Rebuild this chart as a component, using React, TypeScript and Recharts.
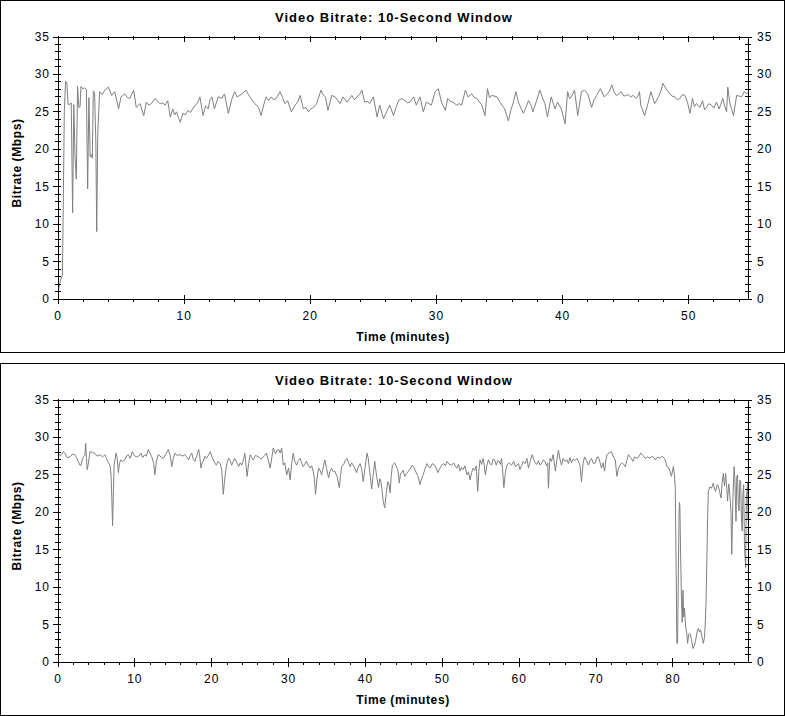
import React from "react";
import { LineChart, Line, XAxis, YAxis } from "recharts";

const TITLE = "Video Bitrate: 10-Second Window";
const X_LABEL = "Time (minutes)";
const Y_LABEL = "Bitrate (Mbps)";

const Y_TICKS = [
  0, 1, 2, 3, 4, 5, 6, 7, 8, 9, 10, 11, 12, 13, 14, 15, 16, 17, 18, 19, 20, 21, 22, 23, 24, 25, 26, 27, 28, 29,
  30, 31, 32, 33, 34, 35,
];
const TOP_X_TICKS = [0, 2, 4, 6, 8, 10, 12, 14, 16, 18, 20, 22, 24, 26, 28, 30, 32, 34, 36, 38, 40, 42, 44, 46, 48, 50, 52, 54];
const BOTTOM_X_TICKS = [
  0, 2, 4, 6, 8, 10, 12, 14, 16, 18, 20, 22, 24, 26, 28, 30, 32, 34, 36, 38, 40, 42, 44, 46, 48, 50, 52, 54, 56, 58,
  60, 62, 64, 66, 68, 70, 72, 74, 76, 78, 80, 82, 84, 86, 88,
];
const TOP_X_MAX = 54.7;
const BOTTOM_X_MAX = 89.76;

// [minute, Mbps]
const TOP_SAMPLES: [number, number][] = [
  [0, 1.0], [0.2, 2.5], [0.35, 3.2], [0.42, 13], [0.5, 25], [0.6, 29.1], [0.7, 28.9], [0.8, 26], [0.95, 26],
  [1.05, 26.2], [1.1, 19.5], [1.16, 11.5], [1.25, 26], [1.35, 19], [1.45, 16], [1.55, 28.4], [1.65, 25.6],
  [1.75, 25.7], [1.82, 28.4], [1.95, 28.1], [2.1, 28.2], [2.25, 28], [2.35, 14.7], [2.45, 26.9], [2.55, 19],
  [2.65, 19.3], [2.72, 18.8], [2.8, 27.8], [2.9, 27.5], [3.0, 21], [3.07, 9], [3.15, 22], [3.3, 27.7], [3.5, 27.3],
  [3.7, 27.9], [4.0, 28.3], [4.25, 27.2], [4.5, 27.7], [4.8, 25.4], [5.0, 27], [5.3, 27.4], [5.5, 26.9], [5.7, 26.8],
  [6.0, 27.9], [6.2, 25.6], [6.5, 26.1], [6.8, 24.5], [7.0, 26.3], [7.2, 25.9], [7.4, 26.1], [7.7, 26.8], [7.9, 26.4],
  [8.1, 26.1], [8.3, 26.2], [8.5, 25.9], [8.7, 26.5], [8.9, 24.3], [9.1, 25.4], [9.25, 24.6], [9.4, 25], [9.55, 24.2],
  [9.7, 23.6], [9.9, 24.8], [10.1, 24.6], [10.3, 25.2], [10.5, 24.9], [10.7, 25.5], [10.9, 25.9], [11.1, 26.3],
  [11.25, 27], [11.5, 24.5], [11.7, 25.8], [11.9, 25.4], [12.05, 26.6], [12.2, 27], [12.4, 25.4], [12.7, 27],
  [13.0, 26.8], [13.2, 27.4], [13.5, 24.8], [13.8, 26.8], [14.0, 27.7], [14.2, 27], [14.4, 27.2], [14.65, 27.5],
  [14.9, 27.9], [15.1, 27.3], [15.3, 26.8], [15.6, 26.1], [15.9, 25.6], [16.1, 24.5], [16.3, 25.9], [16.5, 27],
  [16.7, 26.5], [16.9, 27], [17.1, 26.6], [17.3, 26.8], [17.6, 27.7], [17.8, 26.9], [18.0, 26.1], [18.2, 26.5],
  [18.5, 25], [18.8, 25.9], [19.0, 26.3], [19.2, 27.2], [19.45, 25.4], [19.65, 25.6], [19.85, 25], [20.05, 25.4],
  [20.25, 25.6], [20.5, 26.1], [20.85, 27.9], [21.0, 27.3], [21.2, 27], [21.4, 25.2], [21.7, 27.2], [21.96, 27],
  [22.15, 26.6], [22.35, 26.1], [22.6, 27], [22.9, 26.3], [23.1, 26.7], [23.3, 27.2], [23.5, 26.6], [23.7, 27],
  [23.9, 27.3], [24.1, 27.9], [24.3, 26.3], [24.5, 26.4], [24.7, 26.1], [25.0, 27], [25.3, 24.3], [25.5, 25.9],
  [25.8, 24.1], [26.05, 25], [26.3, 25.9], [26.6, 24.5], [26.8, 25.6], [27.0, 26.5], [27.25, 26.8], [27.5, 26.5],
  [27.7, 26.2], [27.9, 26.3], [28.2, 27], [28.4, 25.9], [28.7, 27], [28.96, 25], [29.2, 26.3], [29.4, 26.1],
  [29.6, 25.9], [29.9, 27.7], [30.15, 28.1], [30.4, 26.3], [30.7, 25.2], [30.9, 26.8], [31.1, 26.4], [31.3, 26.3],
  [31.6, 25.9], [31.8, 26.1], [32.0, 25.9], [32.3, 27.9], [32.5, 27], [32.8, 27.4], [33.0, 26.9], [33.2, 26.8],
  [33.6, 25.9], [33.85, 24.5], [34.05, 28.1], [34.2, 26.9], [34.4, 27.2], [34.8, 27], [35.0, 26.4], [35.2, 25.9],
  [35.4, 25.4], [35.7, 23.8], [35.9, 25.2], [36.1, 26.3], [36.3, 27.7], [36.5, 26.3], [36.7, 25.5], [36.9, 24.8],
  [37.1, 25.6], [37.3, 26.5], [37.5, 25.9], [37.65, 25], [37.9, 26.3], [38.2, 27.9], [38.4, 26.9], [38.6, 26.1],
  [38.8, 24.3], [39.1, 27], [39.4, 25.4], [39.6, 26.3], [39.9, 25.4], [40.05, 24.4], [40.2, 23.4], [40.4, 27.7],
  [40.55, 26.8], [40.7, 27], [40.95, 27.9], [41.2, 24.5], [41.5, 27.7], [41.75, 27.9], [42.0, 27.4], [42.3, 25.6],
  [42.5, 26.6], [42.7, 27.2], [43.0, 28.1], [43.3, 27], [43.5, 27.3], [43.7, 27.7], [43.9, 28.6], [44.1, 27.6],
  [44.25, 27.2], [44.45, 27.4], [44.65, 27.7], [44.85, 27.1], [45.05, 27.2], [45.2, 27.3], [45.4, 27], [45.6, 27.2],
  [45.8, 26.8], [46.0, 27.2], [46.1, 27.7], [46.2, 25.9], [46.5, 24.5], [46.8, 26.3], [47.0, 27.7], [47.3, 26.1],
  [47.6, 27], [47.8, 27.8], [47.95, 28.8], [48.2, 28.1], [48.5, 27.4], [48.7, 27.1], [48.9, 27], [49.1, 26.6],
  [49.3, 26.8], [49.5, 27.3], [49.7, 27.2], [49.9, 26.3], [50.1, 24.8], [50.3, 26.8], [50.45, 25.7], [50.6, 26.1],
  [50.9, 25.6], [51.1, 26.5], [51.25, 25.3], [51.4, 25.6], [51.6, 26.1], [51.8, 25.9], [52.0, 25.5], [52.2, 26.3],
  [52.4, 25.4], [52.55, 26], [52.7, 26.8], [52.85, 25.8], [53.0, 25], [53.1, 28.3], [53.25, 26.2], [53.4, 25.4],
  [53.55, 24.5], [53.8, 27.2], [54.0, 27.1], [54.2, 27], [54.4, 27.7], [54.6, 27.4], [54.7, 27.6],
];

const BOTTOM_SAMPLES: [number, number][] = [
  [0, 28], [0.25, 27.6], [0.48, 27.7], [0.7, 28.1], [0.9, 27.9], [1.2, 27.3], [1.56, 27.4], [1.9, 27.8], [2.2, 27.7],
  [2.45, 27.2], [2.65, 26.8], [2.85, 26.3], [3.0, 26.3], [3.15, 27], [3.3, 27.4], [3.5, 27.6], [3.6, 29.2],
  [3.7, 27.3], [3.8, 25.7], [3.95, 26.5], [4.16, 28.1], [4.5, 28], [4.8, 27.9], [5.1, 27.5], [5.46, 27.7],
  [5.8, 27.4], [6.1, 27.7], [6.3, 27.2], [6.46, 26.8], [6.76, 26.3], [6.9, 25], [7.0, 22], [7.1, 18.2], [7.2, 22.5],
  [7.3, 26.3], [7.55, 27.9], [7.7, 27.3], [7.85, 25.3], [8.0, 26.5], [8.15, 27], [8.4, 26.8], [8.7, 27], [8.9, 27.5],
  [9.15, 27.7], [9.4, 27.2], [9.67, 28.1], [9.9, 27.6], [10.2, 27.4], [10.5, 27.5], [10.8, 27.9], [11.0, 27.3],
  [11.3, 27.7], [11.5, 27.5], [11.75, 28.4], [12.0, 27.8], [12.2, 27.4], [12.45, 26.5], [12.6, 25], [12.8, 26.8],
  [13.05, 27.7], [13.4, 27.4], [13.7, 27.2], [14.0, 27.7], [14.35, 28.4], [14.6, 27.5], [14.8, 26.1], [15.0, 27.2],
  [15.2, 27.9], [15.5, 27.6], [15.9, 27.7], [16.2, 27.5], [16.5, 27.7], [16.75, 27.4], [17.0, 27], [17.2, 27.6],
  [17.4, 27.9], [17.6, 27.1], [17.8, 26.8], [18.05, 27.5], [18.3, 28.4], [18.45, 27.4], [18.6, 25.9], [18.75, 26.6],
  [18.9, 26.8], [19.1, 27.5], [19.3, 27.2], [19.55, 27.6], [19.8, 28.1], [20.0, 27.5], [20.2, 27], [20.4, 26.6],
  [20.6, 26.3], [20.85, 26.8], [21.1, 26.5], [21.3, 25.7], [21.5, 22.4], [21.65, 24], [21.8, 25.5], [22.0, 26.6],
  [22.2, 27.2], [22.4, 26.9], [22.6, 26.3], [22.8, 26.8], [23.0, 27.2], [23.25, 26.7], [23.5, 26.1], [23.7, 26.6],
  [23.9, 26.3], [24.1, 26.9], [24.3, 27.9], [24.45, 26.4], [24.6, 24.8], [24.8, 26.5], [25.0, 27.7], [25.2, 27.3],
  [25.4, 27], [25.7, 27.6], [26.1, 27.4], [26.4, 27.1], [26.7, 27.4], [26.9, 27.6], [27.1, 27.9], [27.3, 27.2],
  [27.6, 25.9], [27.8, 27.2], [28.0, 28.6], [28.3, 27.8], [28.5, 28.3], [28.7, 28.4], [28.9, 27.9], [29.1, 28.6],
  [29.3, 26.3], [29.5, 26.6], [29.75, 25], [30.0, 25.9], [30.2, 24.3], [30.4, 26.5], [30.6, 27.9], [30.8, 26.8],
  [31.05, 26.3], [31.25, 26.9], [31.5, 27.2], [31.7, 26.6], [31.9, 26.1], [32.1, 26.4], [32.3, 26.8], [32.55, 26.3],
  [32.8, 25.9], [33.0, 26.2], [33.2, 25.5], [33.35, 24.5], [33.5, 22.4], [33.7, 24.6], [33.9, 25.9], [34.1, 25.6],
  [34.3, 25], [34.5, 26], [34.7, 27], [34.95, 25.8], [35.2, 24.6], [35.4, 25.5], [35.6, 25.9], [35.8, 25.4],
  [36.0, 25.5], [36.3, 24.8], [36.6, 23.3], [36.75, 24.9], [36.9, 26.1], [37.2, 26.5], [37.4, 27], [37.6, 27.2],
  [37.8, 26.6], [38.0, 26.1], [38.2, 26.6], [38.4, 26.3], [38.6, 25.9], [38.85, 25.3], [39.05, 26], [39.3, 26.5],
  [39.5, 25.8], [39.7, 24.1], [39.95, 26], [40.2, 27.9], [40.35, 27.3], [40.5, 25.9], [40.65, 24.6], [40.8, 23.1],
  [41.0, 25], [41.2, 26.8], [41.45, 24.8], [41.7, 23.3], [41.85, 24.5], [42.0, 24.1], [42.15, 23], [42.3, 21.5],
  [42.5, 20.6], [42.7, 22.5], [42.9, 24.1], [43.05, 23.8], [43.2, 22.6], [43.35, 24.8], [43.5, 26.3], [43.8, 26.6],
  [44.1, 25.9], [44.25, 25.4], [44.4, 23.9], [44.55, 25.1], [44.7, 25.3], [44.9, 25.6], [45.1, 24.8], [45.35, 25.2],
  [45.6, 25.5], [45.85, 25.9], [46.1, 26.3], [46.3, 26], [46.5, 25.5], [46.8, 24.9], [47.1, 23.7], [47.3, 24.5],
  [47.5, 25], [47.75, 25.8], [48.0, 26.5], [48.2, 26.1], [48.4, 25.9], [48.7, 26.5], [49.0, 26.3], [49.2, 25.9],
  [49.4, 25.3], [49.65, 25.8], [49.9, 26.3], [50.2, 26.5], [50.4, 26.2], [50.6, 26.8], [50.9, 26.4], [51.2, 26.3],
  [51.5, 26.6], [51.7, 26.1], [51.9, 25.9], [52.1, 26.4], [52.3, 25.5], [52.5, 26], [52.7, 25.7], [52.95, 26.2],
  [53.2, 25], [53.4, 25.4], [53.6, 24.3], [53.8, 25.3], [54.0, 25.9], [54.2, 25.6], [54.4, 26.2], [54.6, 22.8],
  [54.75, 25.5], [54.9, 27], [55.1, 26.4], [55.3, 27.2], [55.45, 26.3], [55.6, 25], [55.8, 26.3], [56.0, 27],
  [56.2, 26.5], [56.4, 26.3], [56.6, 27.1], [56.8, 27], [57.0, 26.3], [57.2, 26.9], [57.4, 26.8], [57.55, 26.4],
  [57.7, 27.2], [57.85, 25.5], [58.0, 23.3], [58.2, 25.3], [58.4, 26.3], [58.7, 26.6], [59.0, 26.3], [59.3, 26.8],
  [59.5, 26.1], [59.7, 26.3], [59.9, 26.5], [60.1, 25.7], [60.3, 26.2], [60.5, 26.8], [60.75, 26.5], [61.0, 27.2],
  [61.2, 25.9], [61.45, 26.9], [61.7, 27.7], [61.9, 27], [62.05, 26.6], [62.3, 26.4], [62.5, 26.9], [62.7, 26.3],
  [62.95, 26.6], [63.15, 27], [63.35, 26.8], [63.55, 26.2], [63.7, 26.6], [63.8, 23.2], [63.9, 25.5], [64.0, 27.2],
  [64.2, 26.8], [64.4, 27.7], [64.55, 26.7], [64.7, 25.5], [64.9, 27], [65.1, 28.3], [65.3, 27.1], [65.5, 26.3],
  [65.7, 27.2], [65.95, 26.8], [66.2, 27], [66.4, 26.5], [66.6, 27.3], [66.8, 26.6], [67.0, 27.1], [67.25, 26.9],
  [67.5, 27.2], [67.7, 26.8], [67.9, 26.3], [68.1, 24.1], [68.3, 26.5], [68.5, 27.4], [68.75, 26.9], [69.0, 26.3],
  [69.2, 26.9], [69.4, 27.2], [69.65, 26.5], [69.9, 26.6], [70.1, 27.3], [70.3, 27.4], [70.5, 26.7], [70.7, 25.9],
  [70.9, 26.6], [71.1, 25.5], [71.25, 26.8], [71.4, 27.7], [71.7, 27.9], [72.0, 28.1], [72.2, 27.5], [72.5, 27],
  [72.7, 24.8], [72.9, 25.8], [73.1, 26.3], [73.4, 26.6], [73.6, 26.4], [73.8, 26.1], [74.0, 26.9], [74.2, 27.7],
  [74.5, 27.3], [74.8, 26.8], [75.0, 27.4], [75.3, 27.2], [75.55, 27.4], [75.8, 27.9], [76.1, 27.6], [76.4, 27.2],
  [76.7, 27.4], [77.0, 27.2], [77.3, 27.5], [77.5, 27.3], [77.7, 27], [78.0, 27.4], [78.3, 27.2], [78.6, 27.5],
  [78.9, 27.2], [79.05, 26.8], [79.2, 26.1], [79.4, 26], [79.6, 25.5], [79.8, 24.8], [80.05, 26.1], [80.2, 25],
  [80.3, 23.2], [80.42, 12], [80.5, 2.5], [80.6, 2.5], [80.7, 12], [80.8, 20.3], [80.85, 21.3], [80.9, 20.8],
  [81.0, 14], [81.1, 8.7], [81.2, 5.3], [81.3, 9.6], [81.4, 6], [81.5, 7.2], [81.65, 4.7], [81.8, 3.8], [81.9, 2.5],
  [82.05, 3.7], [82.2, 3.8], [82.4, 3], [82.6, 1.8], [82.8, 2.2], [82.95, 2.9], [83.15, 4.1], [83.3, 4.5], [83.45, 4],
  [83.6, 4.3], [83.8, 3.2], [83.95, 2.5], [84.1, 3.3], [84.2, 5.1], [84.3, 8], [84.4, 13.1], [84.5, 19], [84.6, 22.8],
  [84.8, 23.4], [85.0, 23.2], [85.25, 23.9], [85.4, 23.1], [85.55, 22.8], [85.75, 23.7], [85.9, 23.5], [86.1, 22.6],
  [86.25, 21.9], [86.4, 24], [86.55, 25.2], [86.7, 23.5], [86.85, 25.2], [87.0, 23.2], [87.1, 21.5], [87.25, 23.8],
  [87.4, 22.4], [87.55, 20], [87.65, 14.4], [87.8, 22], [87.95, 26.1], [88.05, 24.5], [88.2, 18.8], [88.3, 24.8],
  [88.4, 25], [88.5, 21], [88.6, 20.2], [88.7, 24.3], [88.8, 24.1], [88.9, 19.5], [89.0, 17.5], [89.1, 22.5],
  [89.2, 23.7], [89.3, 15.5], [89.45, 12.6], [89.55, 22], [89.7, 23.9], [89.76, 19],
];

const FONT = "'Liberation Sans', Arial, sans-serif";
const INK = "#000";

function BottomTick(props: any) {
  const { x, y, payload } = props;
  const major = payload.value % 10 === 0;
  return (
    <g>
      <line x1={x} x2={x} y1={major ? y - 4 : y} y2={major ? y + 5 : y + 3} stroke={INK} shapeRendering="crispEdges" />
      {major && (
        <text x={x} y={y + 21} textAnchor="middle" fontSize={12} fontFamily={FONT} fill={INK} letterSpacing={1}>
          {payload.value}
        </text>
      )}
    </g>
  );
}

function TopTick(props: any) {
  const { x, y, payload } = props;
  const major = payload.value % 10 === 0;
  return <line x1={x} x2={x} y1={y - 1} y2={y + (major ? 5 : 3)} stroke={INK} shapeRendering="crispEdges" />;
}

function LeftTick(props: any) {
  const { x, y, payload } = props;
  const major = payload.value % 5 === 0;
  return (
    <g>
      <line x1={x - (major ? 5 : 3)} x2={x + 3} y1={y} y2={y} stroke={INK} shapeRendering="crispEdges" />
      {major && (
        <text x={x - 8} y={y + 4} textAnchor="end" fontSize={12} fontFamily={FONT} fill={INK} letterSpacing={1}>
          {payload.value}
        </text>
      )}
    </g>
  );
}

function RightTick(props: any) {
  const { x, y, payload } = props;
  const major = payload.value % 5 === 0;
  return (
    <g>
      <line x1={x - 3} x2={x + (major ? 4 : 3)} y1={y} y2={y} stroke={INK} shapeRendering="crispEdges" />
      {major && (
        <text x={x + 9} y={y + 4} textAnchor="start" fontSize={12} fontFamily={FONT} fill={INK} letterSpacing={1}>
          {payload.value}
        </text>
      )}
    </g>
  );
}

const axisLine = { stroke: INK, shapeRendering: "crispEdges" };

function BitratePanel({ top, samples, xMax, xTicks }: { top: number; samples: [number, number][]; xMax: number; xTicks: number[] }) {
  const data = samples.map(([t, rate]) => ({ t, rate }));
  return (
    <div
      style={{
        position: "absolute",
        left: 0,
        top,
        width: 785,
        height: 353,
        boxSizing: "border-box",
        border: "1px solid #000",
        background: "#fff",
      }}
    >
      <LineChart width={783} height={351} data={data} margin={{ top: 35, right: 0, bottom: 0, left: 0 }}>
        <XAxis
          xAxisId="bottom"
          dataKey="t"
          type="number"
          domain={[0, xMax]}
          ticks={xTicks}
          interval={0}
          allowDataOverflow
          height={53}
          tickSize={0}
          tickMargin={0}
          tickLine={false}
          axisLine={axisLine}
          tick={(p: any) => <BottomTick {...p} />}
        />
        <XAxis
          xAxisId="top"
          orientation="top"
          dataKey="t"
          type="number"
          domain={[0, xMax]}
          ticks={xTicks}
          interval={0}
          allowDataOverflow
          height={1}
          tickSize={0}
          tickMargin={0}
          tickLine={false}
          axisLine={axisLine}
          tick={(p: any) => <TopTick {...p} />}
        />
        <YAxis
          yAxisId="left"
          type="number"
          domain={[0, 35]}
          ticks={Y_TICKS}
          interval={0}
          width={57}
          tickSize={0}
          tickMargin={0}
          tickLine={false}
          axisLine={axisLine}
          tick={(p: any) => <LeftTick {...p} />}
        />
        <YAxis
          yAxisId="right"
          orientation="right"
          type="number"
          domain={[0, 35]}
          ticks={Y_TICKS}
          interval={0}
          width={36}
          tickSize={0}
          tickMargin={0}
          tickLine={false}
          axisLine={axisLine}
          tick={(p: any) => <RightTick {...p} />}
        />
        {/* invisible twin so the top and right axes get the same data */}
        <Line
          xAxisId="top"
          yAxisId="right"
          dataKey="rate"
          stroke="none"
          dot={false}
          activeDot={false}
          isAnimationActive={false}
        />
        <Line
          xAxisId="bottom"
          yAxisId="left"
          dataKey="rate"
          type="linear"
          stroke="#808080"
          strokeWidth={1}
          dot={false}
          activeDot={false}
          isAnimationActive={false}
        />
      </LineChart>
      <svg width={783} height={351} style={{ position: "absolute", left: 0, top: 0, pointerEvents: "none" }}>
        <text x={393} y={21} textAnchor="middle" fontSize={13} fontWeight="bold" fontFamily={FONT} fill={INK} letterSpacing={1}>
          {TITLE}
        </text>
        <text x={402} y={340} textAnchor="middle" fontSize={12} fontWeight="bold" fontFamily={FONT} fill={INK} letterSpacing={0.6}>
          {X_LABEL}
        </text>
        <text
          transform="translate(20,162) rotate(-90)"
          textAnchor="middle"
          fontSize={12}
          fontWeight="bold"
          fontFamily={FONT}
          fill={INK}
          letterSpacing={0.6}
        >
          {Y_LABEL}
        </text>
      </svg>
    </div>
  );
}

export default function App() {
  return (
    <div style={{ position: "relative", width: 785, height: 716, background: "#fff" }}>
      <style>{"body{margin:0}"}</style>
      <BitratePanel top={0} samples={TOP_SAMPLES} xMax={TOP_X_MAX} xTicks={TOP_X_TICKS} />
      <BitratePanel top={363} samples={BOTTOM_SAMPLES} xMax={BOTTOM_X_MAX} xTicks={BOTTOM_X_TICKS} />
    </div>
  );
}
